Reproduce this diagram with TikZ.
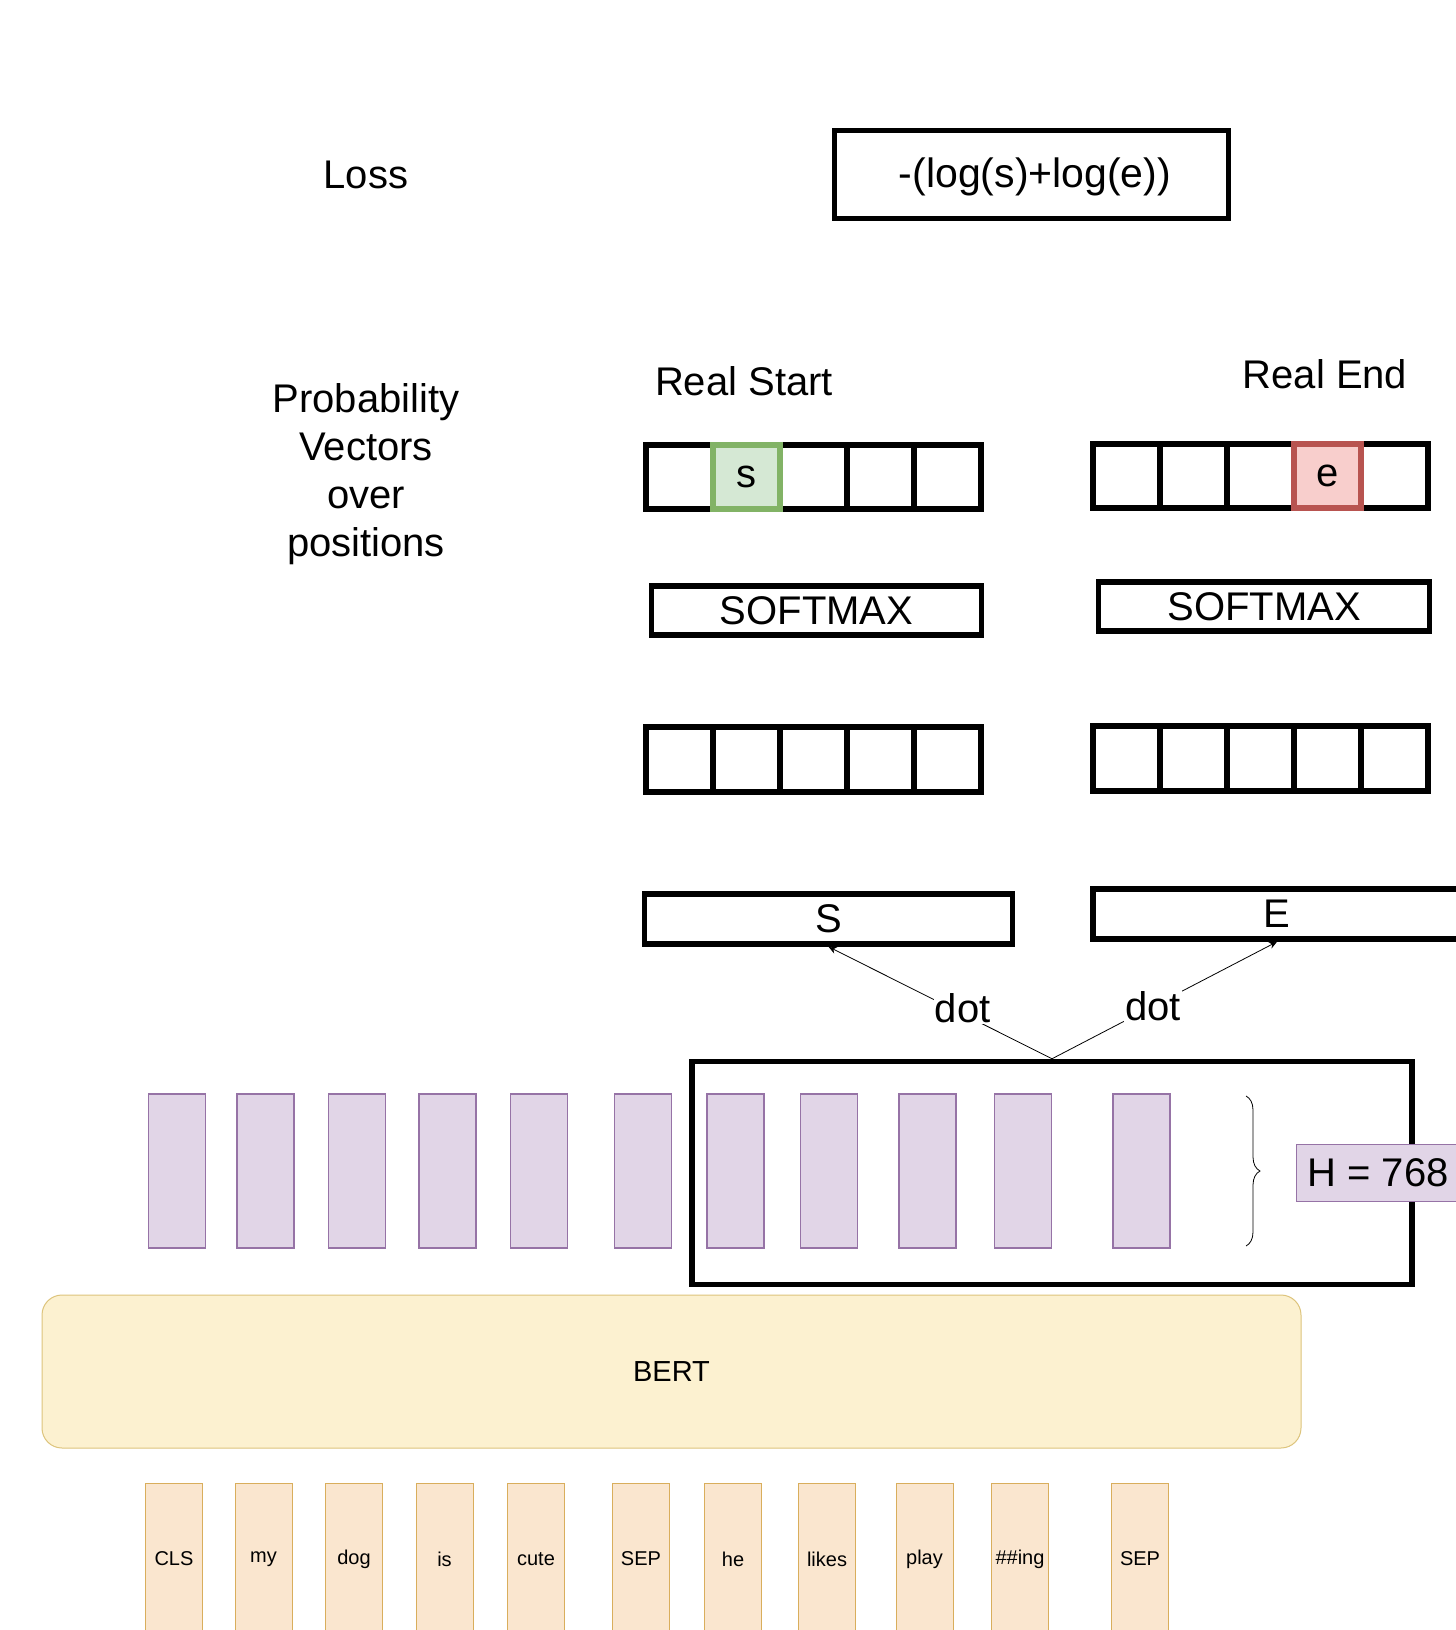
\documentclass[tikz,border=0pt]{standalone}
\usepackage{fontspec}
\setmainfont{Liberation Sans}
\usepackage{tikz}
\usetikzlibrary{arrows.meta}
\usetikzlibrary{decorations.pathreplacing}

\definecolor{hidfill}{HTML}{E1D5E7}
\definecolor{hidline}{HTML}{9673A6}
\definecolor{tokfill}{HTML}{FAE6CF}
\definecolor{tokline}{HTML}{D9AE5C}
\definecolor{bertfill}{HTML}{FCF1D0}
\definecolor{bertline}{HTML}{DDC47C}
\definecolor{startfill}{HTML}{D5E8D4}
\definecolor{startline}{HTML}{82B366}
\definecolor{endfill}{HTML}{F8CECC}
\definecolor{endline}{HTML}{B85450}

\newcommand{\bigtext}{\fontsize{40}{48}\selectfont}
\newcommand{\smalltext}{\fontsize{20}{24}\selectfont}
\newcommand{\poscell}[4]{ \draw[line width=5.5pt] ( #1 , #2 ) rectangle ( #3 , #4 );}
\newcommand{\hitcell}[5]{ \draw[line width=5.5pt,draw=#5line,fill=#5fill] ( #1 , #2 ) rectangle ( #3 , #4 );}
\newcommand{\hvec}[2]{\node[hidbar] (#1) at ( #2 , 1171 ) {};}
\newcommand{\tok}[3]{\node[tokbox] (#1) at ( #2 , 1559 ) {#3};}

\begin{document}
\begin{tikzpicture}[x=1pt,y=-1pt,
    thickbox/.style={draw=black,line width=5.5pt,inner sep=0pt,font=\bigtext},
    hidbar/.style={draw=hidline,fill=hidfill,line width=1.2pt,minimum width=57pt,minimum height=154pt,inner sep=0pt},
    tokbox/.style={draw=tokline,fill=tokfill,line width=1pt,minimum width=57pt,minimum height=152pt,inner sep=0pt,font=\smalltext},
    dotlabel/.style={fill=white,inner sep=1pt,font=\bigtext},
    dotarrow/.style={-{Stealth[length=8pt,width=7pt]},line width=0.8pt}]

        \clip (0,0) rectangle (1456,1630);
        \fill[white] (0,0) rectangle (1456,1630);

        % loss row
        \node[font=\bigtext] (losstxt) at (366,175) {Loss};
        \node[thickbox,minimum width=394pt,minimum height=88pt] (loss) at (1031.5,174.5) {};
        \node[font=\fontsize{41}{49}\selectfont] (lossterm) at (1035,177) {-(log(s)+log(e))};

        % probability vectors
        \node[font=\bigtext,align=center] (probtxt) at (366,474) {Probability\\Vectors\\over\\positions};
        \node[font=\bigtext] (realstart) at (744,381) {Real Start};
        \node[font=\bigtext] (realend) at (1325,374) {Real End};

        \poscell{646}{445}{713}{509}
        \poscell{780}{445}{847}{509}
        \poscell{847}{445}{914}{509}
        \poscell{914}{445}{981}{509}
        \hitcell{713}{445}{780}{509}{start}
        \node[font=\bigtext] (s) at (746.5,477) {s};

        \poscell{1093}{444}{1160}{508}
        \poscell{1160}{444}{1227}{508}
        \poscell{1227}{444}{1294}{508}
        \poscell{1361}{444}{1428}{508}
        \hitcell{1294}{444}{1361}{508}{end}
        \node[font=\bigtext] (e) at (1327.5,476) {e};

        % softmax
        \node[thickbox,minimum width=330pt,minimum height=49pt] (smstart) at (816.5,610.5) {SOFTMAX};
        \node[thickbox,minimum width=331pt,minimum height=49pt] (smend) at (1264,606.5) {SOFTMAX};

        % logits
        \poscell{646}{727}{713}{792}
        \poscell{713}{727}{780}{792}
        \poscell{780}{727}{847}{792}
        \poscell{847}{727}{914}{792}
        \poscell{914}{727}{981}{792}

        \poscell{1093}{726}{1160}{791}
        \poscell{1160}{726}{1227}{791}
        \poscell{1227}{726}{1294}{791}
        \poscell{1294}{726}{1361}{791}
        \poscell{1361}{726}{1428}{791}

        % S and E
        \node[thickbox,minimum width=368pt,minimum height=50pt] (S) at (828.5,919) {S};
        \node[thickbox,minimum width=368pt,minimum height=50pt] (E) at (1277,914) {E};

        % hidden states
        \hvec{h1}{177}
        \hvec{h2}{265.5}
        \hvec{h3}{357}
        \hvec{h4}{447.5}
        \hvec{h5}{539}
        \hvec{h6}{643}
        \hvec{h7}{735.5}
        \hvec{h8}{829}
        \hvec{h9}{927.5}
        \hvec{h10}{1023}
        \hvec{h11}{1141.5}

        \node[thickbox,minimum width=720pt,minimum height=223pt] (hid) at (1052,1173) {};
        \draw[decorate,decoration={brace,amplitude=14pt},line width=0.8pt] (1246,1096) -- (1246,1246);
        \node[draw=hidline,fill=hidfill,line width=1pt,anchor=west,minimum height=57pt,inner xsep=11pt,font=\bigtext] (H) at (1296,1173) {H = 768};

        \draw[dotarrow] (hid.north) -- node[dotlabel,pos=0.4,yshift=6pt] (dot1) {dot} (S.south);
        \draw[dotarrow] (hid.north) -- node[dotlabel,pos=0.45] (dot2) {dot} (E.south);

        % BERT
        \node[draw=bertline,fill=bertfill,line width=1pt,rounded corners=20pt,minimum width=1259pt,minimum height=153pt,font=\fontsize{29}{35}\selectfont] (bert) at (671.5,1371.5) {BERT};

        % tokens
        \tok{t1}{174}{CLS}
        \tok{t2}{263.5}{my}
        \tok{t3}{354}{dog}
        \tok{t4}{444.5}{is}
        \tok{t5}{536}{cute}
        \tok{t6}{641}{SEP}
        \tok{t7}{733}{he}
        \tok{t8}{827}{likes}
        \tok{t9}{924.5}{play}
        \tok{t10}{1020}{\#\#ing}
        \tok{t11}{1140}{SEP}

    \end{tikzpicture}
\end{document}
